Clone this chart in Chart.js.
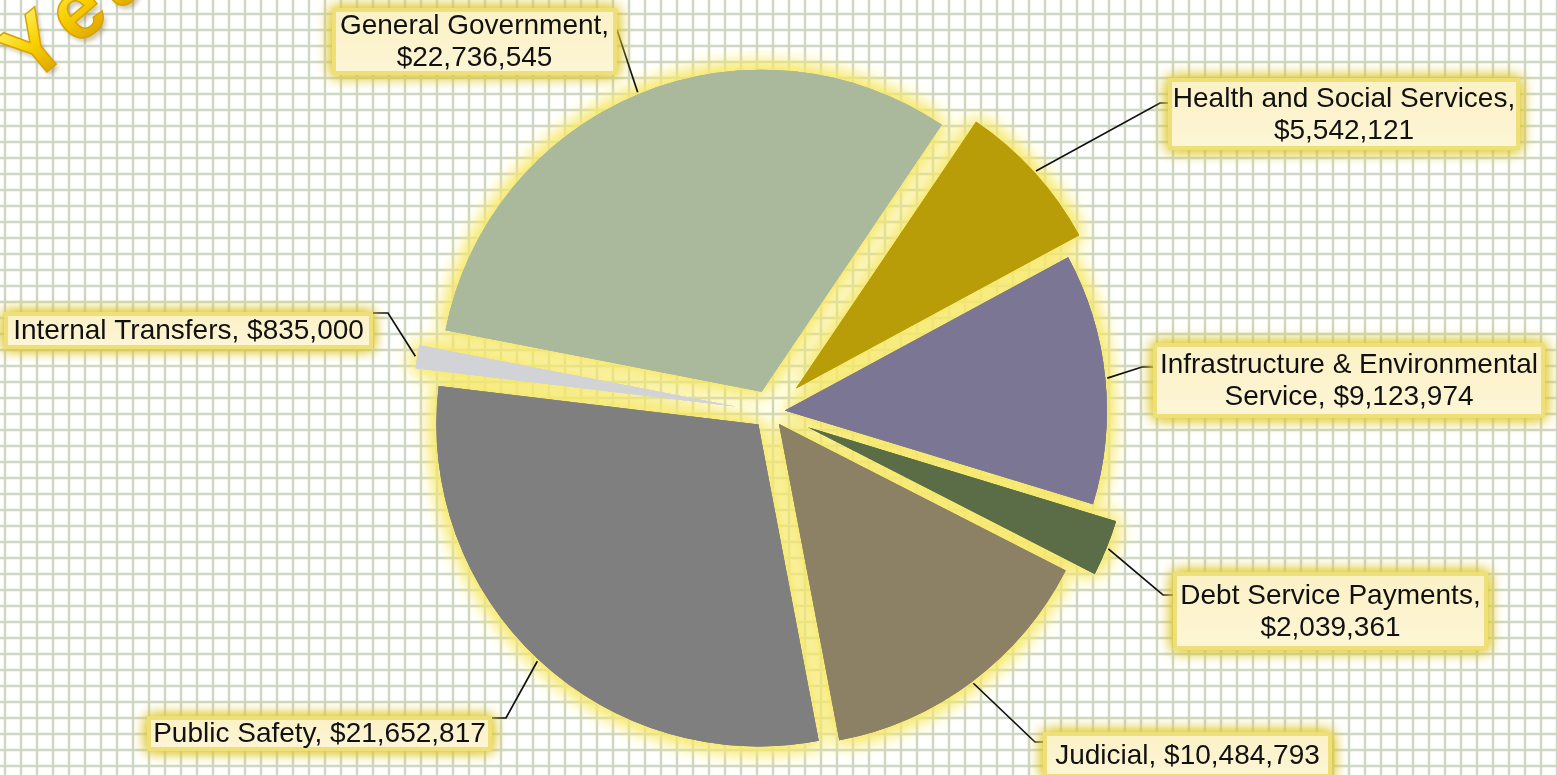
<!DOCTYPE html>
<html>
<head>
<meta charset="utf-8">
<script src="https://cdn.jsdelivr.net/npm/chart.js@4/dist/chart.umd.min.js"></script>
<style>
  html, body { margin: 0; padding: 0; background: #ffffff; overflow: hidden; }
  #wrap { width: 1558px; height: 775px; position: relative; }
</style>
</head>
<body>
<div id="wrap"><canvas id="budgetPie"></canvas></div>
<script>
// Expenditure categories and amounts (dollars)
const categories = [
  'General Government',
  'Health and Social Services',
  'Infrastructure & Environmental Service',
  'Debt Service Payments',
  'Judicial',
  'Public Safety',
  'Internal Transfers'
];
const amounts = [22736545, 5542121, 9123974, 2039361, 10484793, 21652817, 835000];

// Slice fills and how far each slice is pulled out from the centre (px)
const sliceColors = ['#aab89c', '#b89c08', '#7b7693', '#5a6d47', '#8d8165', '#7f7f7f', '#d2d3d6'];
const explode = [22, 35, 15, 41, 15, 17, 35];

// Word-art heading in the corner (only partly on the page)
const headingText = 'Year';

// Callout boxes: [x, y, w, h], elbow of the leader line, word after which the text wraps
const callouts = [
  { box: [332, 8, 285, 67],    elbow: [617, 30],  wrap: 2 },
  { box: [1168, 78, 352, 72],  elbow: [1160, 103], wrap: 4 },
  { box: [1153, 343, 392, 75], elbow: [1142, 367], wrap: 3 },
  { box: [1173, 572, 315, 78], elbow: [1163, 595], wrap: 3 },
  { box: [1043, 732, 289, 46], elbow: [1035, 742], wrap: 0 },
  { box: [147, 716, 345, 35],  elbow: [506, 718],  wrap: 0 },
  { box: [4, 312, 369, 37],    elbow: [388, 313],  wrap: 0 }
];

const labelFont = '28px "Liberation Sans", Arial, sans-serif';
const lineGap = 32;

function calloutLines(i) {
  const full = categories[i] + ', $' + amounts[i].toLocaleString('en-US');
  const words = full.split(' ');
  const n = callouts[i].wrap;
  if (!n) return [full];
  return [words.slice(0, n).join(' '), words.slice(n).join(' ')];
}

function sliceGeometry(arc, i) {
  const p = arc.getProps(['x', 'y', 'startAngle', 'endAngle', 'outerRadius'], true);
  const mid = (p.startAngle + p.endAngle) / 2;
  const dx = Math.cos(mid), dy = Math.sin(mid);
  const tx = p.x + dx * explode[i], ty = p.y + dy * explode[i];
  return { mid, dx, dy, tx, ty, r: p.outerRadius };
}

// Graph-paper background
const graphPaper = {
  id: 'graphPaper',
  beforeDraw(chart) {
    const { ctx, width, height } = chart;
    ctx.save();
    ctx.fillStyle = '#ffffff';
    ctx.fillRect(0, 0, width, height);
    ctx.strokeStyle = 'rgba(188,200,178,0.72)';
    ctx.lineWidth = 2.5;
    ctx.beginPath();
    for (let x = 5; x < width; x += 16) { ctx.moveTo(x, 0); ctx.lineTo(x, height); }
    for (let y = 14; y < height; y += 16) { ctx.moveTo(0, y); ctx.lineTo(width, y); }
    ctx.stroke();
    ctx.restore();
  }
};

// Pulled-out slices with a soft yellow glow around each one
const explodedSlices = {
  id: 'explodedSlices',
  beforeDatasetsDraw(chart) {
    const ctx = chart.ctx;
    const arcs = chart.getDatasetMeta(0).data;
    const drawAll = () => arcs.forEach((arc, i) => {
      const g = sliceGeometry(arc, i);
      ctx.save();
      ctx.translate(g.dx * explode[i], g.dy * explode[i]);
      arc.draw(ctx);
      ctx.restore();
    });
    ctx.save();
    ctx.shadowColor = 'rgba(246,232,105,1)';
    ctx.shadowBlur = 22;
    drawAll(); drawAll(); drawAll();
    ctx.restore();
    drawAll();
    return false;
  }
};

// Leader lines, label boxes and the corner heading
const calloutLabels = {
  id: 'calloutLabels',
  afterDraw(chart) {
    const ctx = chart.ctx;
    const arcs = chart.getDatasetMeta(0).data;
    ctx.save();
    ctx.strokeStyle = '#111111';
    ctx.lineWidth = 1.7;
    arcs.forEach((arc, i) => {
      const g = sliceGeometry(arc, i);
      const c = callouts[i];
      const [bx, by, bw, bh] = c.box;
      const ax = g.tx + g.dx * (g.r + 2), ay = g.ty + g.dy * (g.r + 2);
      const edgeX = Math.abs(c.elbow[0] - bx) < Math.abs(c.elbow[0] - (bx + bw)) ? bx : bx + bw;
      ctx.beginPath();
      ctx.moveTo(ax, ay);
      ctx.lineTo(c.elbow[0], c.elbow[1]);
      ctx.lineTo(edgeX, c.elbow[1]);
      ctx.stroke();
    });
    ctx.restore();

    callouts.forEach((c, i) => {
      const [bx, by, bw, bh] = c.box;
      ctx.save();
      ctx.shadowColor = 'rgba(222,200,45,1)';
      ctx.shadowBlur = 14;
      ctx.fillStyle = '#efdf78';
      ctx.fillRect(bx, by, bw, bh);
      ctx.fillRect(bx, by, bw, bh);
      ctx.restore();
      ctx.save();
      const inner = ctx.createLinearGradient(0, by, 0, by + bh);
      inner.addColorStop(0, '#fbf1c6');
      inner.addColorStop(1, '#fdf6d6');
      ctx.fillStyle = inner;
      ctx.fillRect(bx + 4, by + 4, bw - 8, bh - 8);
      ctx.fillStyle = '#111111';
      ctx.font = labelFont;
      ctx.textAlign = 'center';
      ctx.textBaseline = 'middle';
      const lines = calloutLines(i);
      const cx = bx + bw / 2, cy = by + bh / 2;
      lines.forEach((t, k) => {
        ctx.fillText(t, cx, cy + (k - (lines.length - 1) / 2) * lineGap + 1);
      });
      ctx.restore();
    });

    // corner heading
    ctx.save();
    ctx.translate(30, 86);
    ctx.rotate(-40 * Math.PI / 180);
    ctx.font = 'bold 84px "Liberation Sans", Arial, sans-serif';
    ctx.letterSpacing = '9px';
    ctx.textBaseline = 'alphabetic';
    const grad = ctx.createLinearGradient(0, -60, 0, 0);
    grad.addColorStop(0, '#ffeb55');
    grad.addColorStop(0.5, '#f8d000');
    grad.addColorStop(1, '#e2aa00');
    ctx.shadowColor = 'rgba(120,100,40,0.35)';
    ctx.shadowOffsetX = 3;
    ctx.shadowOffsetY = 4;
    ctx.shadowBlur = 4;
    ctx.fillStyle = grad;
    ctx.fillText(headingText, 0, 0);
    ctx.shadowColor = 'transparent';
    ctx.strokeStyle = '#d9a400';
    ctx.lineWidth = 1.5;
    ctx.strokeText(headingText, 0, 0);
    ctx.restore();
  }
};

new Chart(document.getElementById('budgetPie'), {
  type: 'pie',
  data: {
    labels: categories,
    datasets: [{
      data: amounts,
      backgroundColor: sliceColors,
      borderWidth: 0
    }]
  },
  options: {
    responsive: true,
    maintainAspectRatio: false,
    animation: false,
    rotation: 281,
    radius: 322,
    layout: { padding: { left: 0, right: 18, top: 49, bottom: 0 } },
    events: [],
    plugins: {
      legend: { display: false },
      tooltip: { enabled: false },
      title: { display: false }
    }
  },
  plugins: [graphPaper, explodedSlices, calloutLabels]
});
</script>
</body>
</html>
